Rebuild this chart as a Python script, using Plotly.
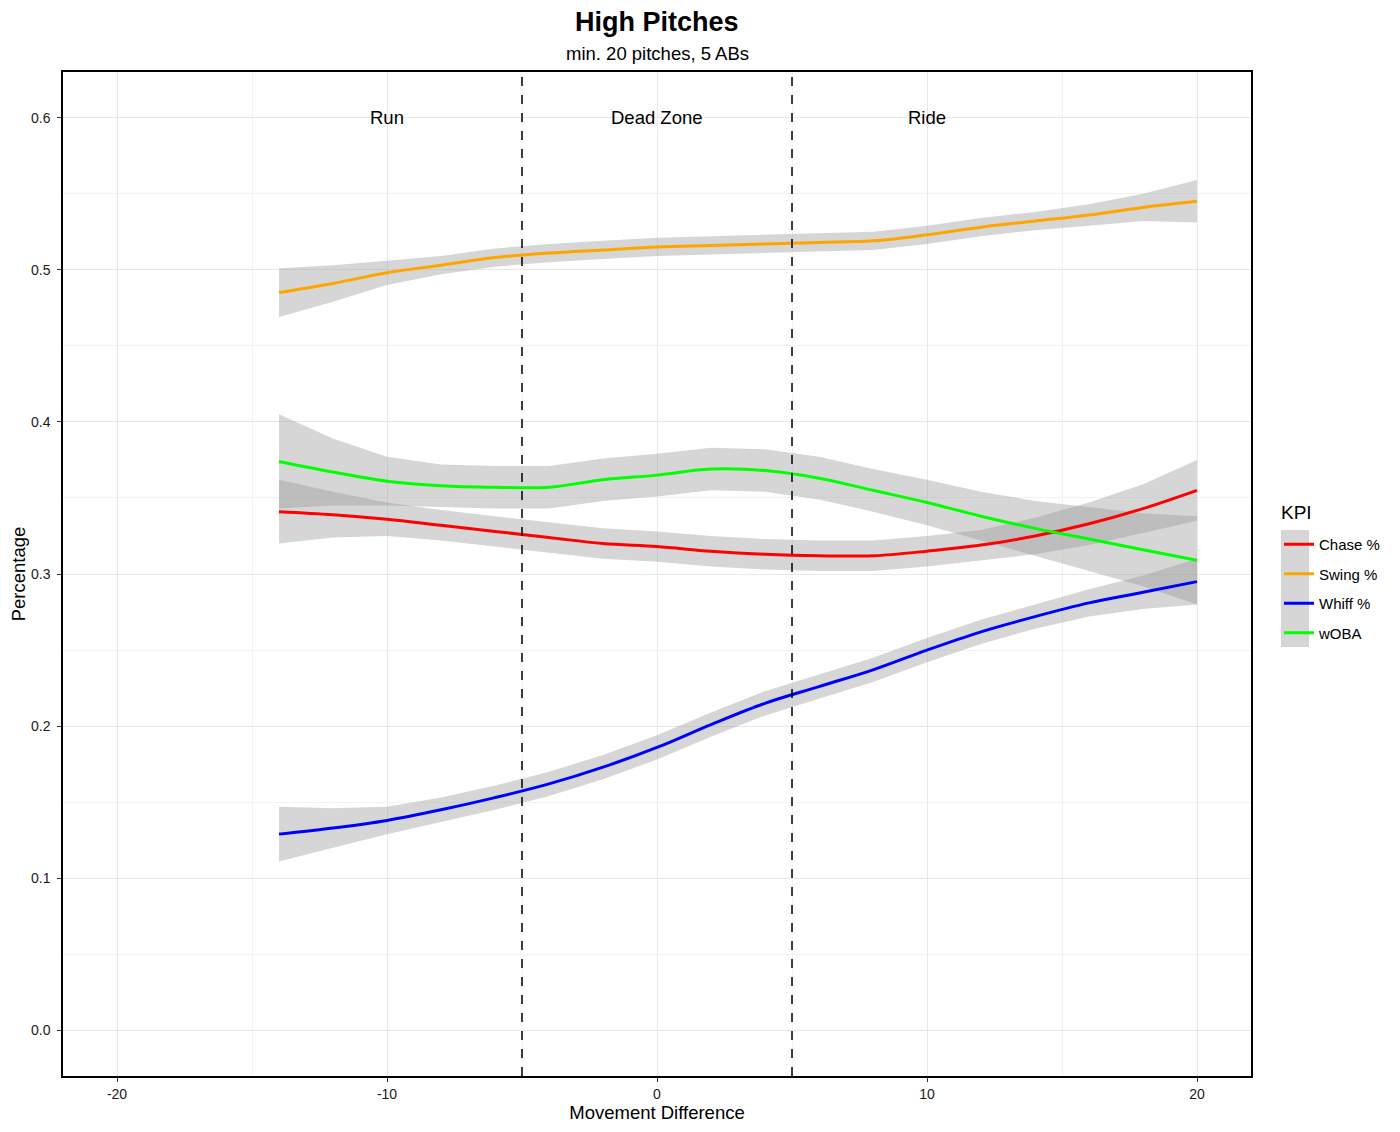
import plotly.graph_objects as go

x_vals = [-14, -12, -10, -8, -6, -4, -2, 0, 2, 4, 6, 8, 10, 12, 14, 16, 18, 20]

swing = [0.485, 0.491, 0.498, 0.503, 0.508, 0.511, 0.513, 0.515, 0.516, 0.517, 0.518, 0.519, 0.523, 0.528, 0.532, 0.536, 0.541, 0.545]
swing_se = [0.016, 0.012, 0.008, 0.006, 0.006, 0.006, 0.006, 0.006, 0.006, 0.006, 0.006, 0.006, 0.006, 0.006, 0.006, 0.007, 0.009, 0.014]

whiff = [0.129, 0.133, 0.138, 0.145, 0.153, 0.162, 0.173, 0.186, 0.201, 0.215, 0.226, 0.237, 0.250, 0.262, 0.272, 0.281, 0.288, 0.295]
whiff_se = [0.018, 0.013, 0.009, 0.008, 0.008, 0.008, 0.008, 0.008, 0.008, 0.008, 0.008, 0.008, 0.008, 0.008, 0.008, 0.009, 0.011, 0.015]

chase = [0.341, 0.339, 0.336, 0.332, 0.328, 0.324, 0.320, 0.318, 0.315, 0.313, 0.312, 0.312, 0.315, 0.319, 0.325, 0.333, 0.343, 0.355]
chase_se = [0.021, 0.015, 0.011, 0.010, 0.010, 0.010, 0.010, 0.010, 0.010, 0.010, 0.010, 0.010, 0.010, 0.010, 0.012, 0.014, 0.016, 0.020]

woba = [0.374, 0.367, 0.361, 0.358, 0.357, 0.357, 0.362, 0.365, 0.369, 0.368, 0.363, 0.355, 0.347, 0.338, 0.330, 0.323, 0.316, 0.309]
woba_se = [0.031, 0.022, 0.016, 0.014, 0.014, 0.014, 0.014, 0.014, 0.014, 0.014, 0.014, 0.014, 0.015, 0.016, 0.018, 0.021, 0.024, 0.029]

zone_x = [-10, 0, 10]
zone_labels = ["Run", "Dead Zone", "Ride"]
zone_bounds = [-5, 5]

x_ticks = [-20, -10, 0, 10, 20]
x_ticktext = ["-20", "-10", "0", "10", "20"]
y_ticks = [0, 0.1, 0.2, 0.3, 0.4, 0.5, 0.6]

series = [
    ("Chase %", chase, chase_se, "#ff0000"),
    ("Swing %", swing, swing_se, "#ffa500"),
    ("Whiff %", whiff, whiff_se, "#0000ff"),
    ("wOBA", woba, woba_se, "#00ff00"),
]

FONT = "Arial, Liberation Sans, sans-serif"

# the page puts ~7px of body margin around the figure, so size/margins allow for it
W, H = 1393, 1125
L, T, PW, PH = 55, 64, 1188, 1004
# on-screen panel corner used for placing legend pieces
X0, Y1 = 62, 1075

fig = go.Figure()

# confidence bands first
for name, y, se, color in series:
    upper = [a + b for a, b in zip(y, se)]
    lower = [a - b for a, b in zip(y, se)]
    fig.add_trace(go.Scatter(
        x=x_vals + x_vals[::-1],
        y=upper + lower[::-1],
        fill='toself',
        fillcolor='rgba(153,153,153,0.4)',
        line=dict(width=0),
        hoverinfo='skip',
        showlegend=False,
        mode='lines'
    ))

for name, y, se, color in series:
    fig.add_trace(go.Scatter(
        x=x_vals, y=y, mode='lines', name=name, legendgroup=name,
        line=dict(color=color, width=3, shape='spline')
    ))

for b in zone_bounds:
    fig.add_vline(x=b, line=dict(color='black', width=1.5, dash='dash'))

for zx, lab in zip(zone_x, zone_labels):
    fig.add_annotation(x=zx, y=0.6, text=lab, showarrow=False,
                       font=dict(size=18.5, color='black', family=FONT))

# title + subtitle centered over the panel
fig.add_annotation(x=0.5, y=1, xref='paper', yref='paper', yanchor='middle', yshift=50,
                   text="<b>High Pitches</b>", showarrow=False,
                   font=dict(size=27, color='black', family=FONT))
fig.add_annotation(x=0.5, y=1, xref='paper', yref='paper', yanchor='middle', yshift=19,
                   text="min. 20 pitches, 5 ABs", showarrow=False,
                   font=dict(size=18.5, color='black', family=FONT))

# legend title drawn separately to get the ggplot spacing
fig.add_annotation(x=(1278 - X0) / PW, y=(Y1 - 511) / PH, xref='paper', yref='paper',
                   xanchor='left', yanchor='middle', text="KPI", showarrow=False,
                   font=dict(size=19, color='black', family=FONT))

# grey legend key background
fig.add_shape(type='rect', xref='paper', yref='paper',
              x0=(1280 - X0) / PW, x1=(1308 - X0) / PW,
              y0=(Y1 - 646) / PH, y1=(Y1 - 529) / PH,
              fillcolor='#d6d6d6', line=dict(width=0), layer='below')

axis_common = dict(
    showline=True, linecolor='black', linewidth=1.5, mirror=True,
    ticks='outside', ticklen=4, tickcolor='#333333', tickwidth=1,
    gridcolor='#e8e8e8', gridwidth=1.2, zeroline=False, automargin=False,
    tickfont=dict(size=14, color='#1a1a1a', family=FONT),
)

fig.update_xaxes(
    range=[-22, 22], tickvals=x_ticks, ticktext=x_ticktext,
    minor=dict(tickvals=[-15, -5, 5, 15], showgrid=True, gridcolor='#f2f2f2', gridwidth=1, ticks=''),
    title=dict(text="Movement Difference", font=dict(size=18.5, color='black', family=FONT), standoff=6),
    **axis_common
)
fig.update_yaxes(
    range=[-0.03, 0.63], tickvals=y_ticks, tickformat='.1f', ticklabelstandoff=4,
    minor=dict(tickvals=[0.05, 0.15, 0.25, 0.35, 0.45, 0.55], showgrid=True, gridcolor='#f2f2f2', gridwidth=1, ticks=''),
    title=dict(text="Percentage", font=dict(size=18.5, color='black', family=FONT), standoff=4),
    **axis_common
)

fig.update_layout(
    width=W, height=H,
    margin=dict(l=L, r=W - L - PW, t=T, b=H - T - PH),
    plot_bgcolor='white', paper_bgcolor='white',
    font=dict(family=FONT, color='black'),
    legend=dict(
        font=dict(size=15),
        x=(1278 - X0) / PW, y=(Y1 - 527) / PH, xanchor='left', yanchor='top',
        bgcolor='rgba(0,0,0,0)', itemwidth=30, tracegroupgap=7,
    ),
)

fig.write_html("out.html")
